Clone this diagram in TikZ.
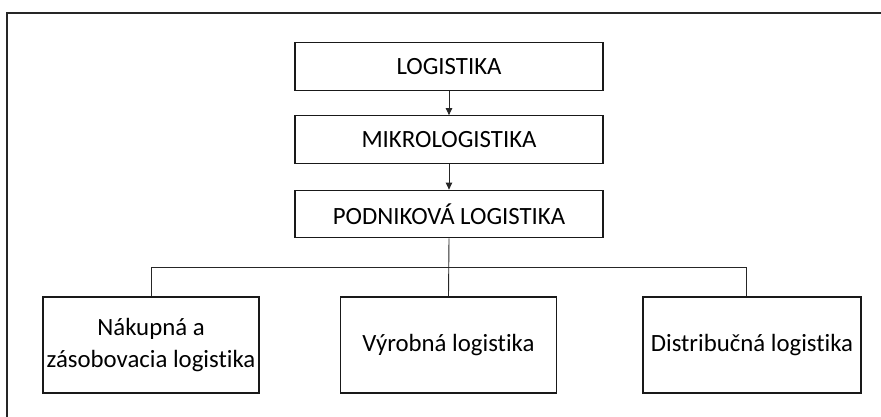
\documentclass[tikz,border=0pt]{standalone}
\usepackage{fontspec}
\setmainfont{Carlito}[Ligatures=NoCommon]
\usetikzlibrary{arrows.meta}
\begin{document}
\begin{tikzpicture}[x=1pt,y=-1pt,
  box/.style={draw=black!90,line width=1.3pt,rectangle,inner sep=0pt,
    font=\fontsize{24.8}{32}\selectfont,align=center},
  topbox/.style={box,minimum width=308pt,minimum height=47.5pt},
  leafbox/.style={box,minimum width=216pt,minimum height=96pt},
  link/.style={draw=black!85,line width=0.9pt},
  arrowlink/.style={link,-{Triangle[length=7pt,width=6.5pt]}}]
  \useasboundingbox (0,0) rectangle (881,416);
  % outer frame, open to the right and bottom
  \coordinate (fbl) at (7,420);
  \coordinate (ftl) at (7,13);
  \coordinate (ftr) at (885,13);
  \draw[black!85,line width=2pt] (fbl) -- (ftl) -- (ftr);

  % main chain
  \node[topbox] (log) at (449,66.5) {LOGISTIKA};
  \node[topbox] (mik) at (449,139.5) {MIKROLOGISTIKA};
  \node[topbox] (pod) at (449,214) {PODNIKOVÁ LOGISTIKA};

  % branches
  \node[leafbox] (nak) at (151,345) {Nákupná a\\zásobovacia logistika};
  \node[leafbox] (vyr) at (448.5,345) {Výrobná logistika};
  \node[leafbox,minimum width=218pt] (dis) at (752,345) {Distribučná logistika};

  \draw[arrowlink] (log) -- (mik);
  \draw[arrowlink] (mik) -- (pod);

  \coordinate (busL) at (151,267);
  \coordinate (busR) at (746,267);
  \draw[link] (pod.south) -- (vyr.north);
  \draw[link] (nak.north) -- (busL) -- (busR) -- (busR |- dis.north);
\end{tikzpicture}
\end{document}
